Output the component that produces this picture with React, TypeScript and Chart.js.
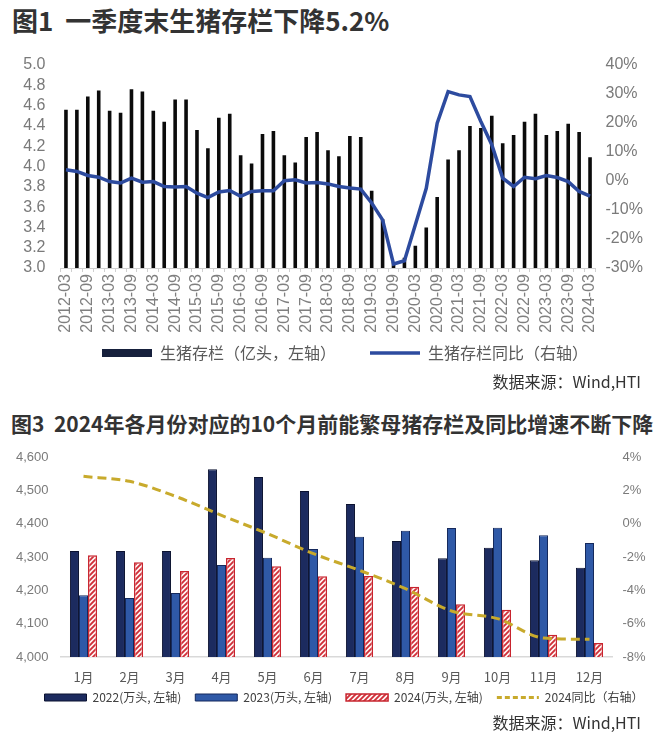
import React, { useEffect, useRef } from 'react';
import { Chart, registerables } from 'chart.js';

Chart.register(...registerables);

// ---------- Figure 1: hog inventory (quarterly) ----------
const QUARTERS: string[] = [
  '2012-03', '2012-06', '2012-09', '2012-12',
  '2013-03', '2013-06', '2013-09', '2013-12',
  '2014-03', '2014-06', '2014-09', '2014-12',
  '2015-03', '2015-06', '2015-09', '2015-12',
  '2016-03', '2016-06', '2016-09', '2016-12',
  '2017-03', '2017-06', '2017-09', '2017-12',
  '2018-03', '2018-06', '2018-09', '2018-12',
  '2019-03', '2019-06', '2019-09', '2019-12',
  '2020-03', '2020-06', '2020-09', '2020-12',
  '2021-03', '2021-06', '2021-09', '2021-12',
  '2022-03', '2022-06', '2022-09', '2022-12',
  '2023-03', '2023-06', '2023-09', '2023-12',
  '2024-03',
];

// 生猪存栏 (亿头)
const HOG_STOCK: number[] = [
  4.56, 4.56, 4.69, 4.75, 4.55, 4.53, 4.76, 4.74,
  4.55, 4.44, 4.66, 4.66, 4.36, 4.18, 4.48, 4.52,
  4.11, 4.03, 4.32, 4.35, 4.11, 4.04, 4.29, 4.34,
  4.16, 4.10, 4.30, 4.29, 3.76, 3.48, 3.06, 3.10,
  3.22, 3.40, 3.70, 4.07, 4.16, 4.40, 4.38, 4.50,
  4.23, 4.31, 4.44, 4.52, 4.31, 4.35, 4.42, 4.34,
  4.09,
];

// 生猪存栏同比 (%)
const HOG_YOY: number[] = [
  3.9, 3.3, 1.9, 1.3, -0.2, -0.7, 1.0, -0.4,
  -0.2, -1.9, -2.1, -1.9, -4.2, -5.7, -3.8, -3.3,
  -5.3, -3.6, -3.4, -3.4, 0.1, 0.4, -0.7, -0.5,
  -1.0, -1.9, -2.4, -2.8, -7.6, -13.4, -28.6, -27.5,
  -15.1, -2.5, 19.9, 30.8, 29.7, 29.1, 20.5, 12.5,
  1.0, -1.9, 1.3, 0.8, 1.9, 1.2, -0.2, -3.6,
  -5.2,
];

// ---------- Figure 3: breeding sows 10 months earlier ----------
const MONTHS: string[] = ['1月', '2月', '3月', '4月', '5月', '6月', '7月', '8月', '9月', '10月', '11月', '12月'];
const SOW_2022: number[] = [4318, 4318, 4318, 4563, 4540, 4498, 4459, 4348, 4296, 4328, 4290, 4268];
const SOW_2023: number[] = [4185, 4177, 4192, 4276, 4298, 4324, 4361, 4379, 4387, 4388, 4365, 4342];
const SOW_2024: number[] = [4305, 4284, 4258, 4297, 4272, 4242, 4243, 4211, 4158, 4142, 4067, 4042];
const SOW_YOY_2024: number[] = [2.84, 2.54, 1.64, 0.5, -0.6, -1.8, -2.8, -3.9, -5.24, -5.7, -6.86, -6.94];

const TICK_FONT = "'Liberation Sans', 'Noto Sans CJK SC', sans-serif";
const CJK_FONT = "'Noto Sans CJK SC', sans-serif";

function makeHatch(): CanvasPattern | string {
  const s = 5;
  const c = document.createElement('canvas');
  c.width = s;
  c.height = s;
  const g = c.getContext('2d');
  if (!g) return '#e04848';
  g.fillStyle = '#fff6f4';
  g.fillRect(0, 0, s, s);
  g.strokeStyle = '#d0303a';
  g.lineWidth = 1.9;
  g.beginPath();
  g.moveTo(-1, s + 1);
  g.lineTo(s + 1, -1);
  g.moveTo(-1, 1);
  g.lineTo(1, -1);
  g.moveTo(s - 1, s + 1);
  g.lineTo(s + 1, s - 1);
  g.stroke();
  return g.createPattern(c, 'repeat') || '#e04848';
}

// moves the legend row after layout (horizontal shift, fixed top, box reaching canvas bottom)
function legendPlacer(dx: number, top: number) {
  return {
    id: 'legendPlacer',
    afterLayout(chart: any) {
      const lg = chart.legend;
      if (!lg) return;
      lg.left += dx;
      lg.right += dx;
      lg.top = top;
      lg.bottom = chart.height;
      lg.height = lg.bottom - lg.top;
    },
  };
}

const noPadV = (s: any) => {
  s.paddingTop = 0;
  s.paddingBottom = 0;
};
const noPadH = (s: any) => {
  s.paddingLeft = 0;
  s.paddingRight = 0;
};

export default function App() {
  const topRef = useRef<HTMLCanvasElement | null>(null);
  const botRef = useRef<HTMLCanvasElement | null>(null);

  useEffect(() => {
    if (!topRef.current || !botRef.current) return;

    const defaultLabels = (Chart.defaults.plugins.legend.labels as any).generateLabels;

    const top = new Chart(topRef.current, {
      type: 'bar',
      data: {
        labels: QUARTERS,
        datasets: [
          {
            type: 'bar',
            label: '生猪存栏（亿头，左轴）',
            data: HOG_STOCK,
            backgroundColor: '#0b0b0b',
            borderWidth: 0,
            yAxisID: 'y',
            barPercentage: 0.33,
            categoryPercentage: 1,
            order: 1,
            pointStyle: 'rect',
          } as any,
          {
            type: 'line',
            label: '生猪存栏同比（右轴）',
            data: HOG_YOY,
            borderColor: '#2d4b9f',
            backgroundColor: '#2d4b9f',
            borderWidth: 3.5,
            pointRadius: 0,
            tension: 0,
            yAxisID: 'y1',
            order: 0,
            pointStyle: 'line',
          } as any,
        ],
      },
      plugins: [legendPlacer(15, 261)],
      options: {
        responsive: false,
        animation: false,
        layout: { padding: { left: 0, right: 0, top: 15, bottom: 0 } },
        plugins: {
          tooltip: { enabled: false },
          legend: {
            position: 'bottom',
            maxHeight: 20,
            labels: {
              usePointStyle: true,
              pointStyleWidth: 50,
              boxHeight: 8,
              padding: 34,
              color: '#595959',
              font: { family: CJK_FONT, size: 16 },
              sort: (a: any, b: any) => a.datasetIndex - b.datasetIndex,
              generateLabels: (chart: any) => {
                const items = defaultLabels(chart);
                items.forEach((it: any) => {
                  if (it.datasetIndex === 0) {
                    it.fillStyle = '#16203c';
                    it.strokeStyle = '#16203c';
                  }
                });
                return items;
              },
            },
          },
        },
        scales: {
          x: {
            grid: { display: true, drawOnChartArea: false, drawTicks: true, tickLength: 4, color: '#d0d0d0' },
            border: { display: true, color: '#d0d0d0' },
            ticks: {
              autoSkip: false,
              maxRotation: 90,
              minRotation: 90,
              padding: 2,
              color: '#7f7f7f',
              font: { family: TICK_FONT, size: 16 },
              callback: (_v: any, i: number) => (i % 2 === 0 ? QUARTERS[i] : ''),
            },
            afterFit: (s: any) => {
              s.height = 84;
              noPadH(s);
            },
          },
          y: {
            type: 'linear',
            position: 'left',
            min: 3,
            max: 5,
            grid: { display: false, drawTicks: false },
            border: { display: false },
            ticks: {
              autoSkip: false,
              stepSize: 0.2,
              padding: 15,
              color: '#7a7a7a',
              font: { family: TICK_FONT, size: 16 },
              callback: (v: any) => Number(v).toFixed(1),
            },
            afterFit: (s: any) => {
              s.width = 60.5;
              noPadV(s);
            },
          },
          y1: {
            type: 'linear',
            position: 'right',
            min: -30,
            max: 40,
            grid: { display: false, drawTicks: false },
            border: { display: false },
            ticks: {
              autoSkip: false,
              stepSize: 10,
              padding: 10,
              color: '#7a7a7a',
              font: { family: TICK_FONT, size: 16 },
              callback: (v: any) => `${v}%`,
            },
            afterFit: (s: any) => {
              s.width = 64.5;
              noPadV(s);
            },
          },
        },
      } as any,
    });

    const hatch = makeHatch();

    const bot = new Chart(botRef.current, {
      type: 'bar',
      data: {
        labels: MONTHS,
        datasets: [
          {
            type: 'bar',
            label: '2022(万头, 左轴)',
            data: SOW_2022,
            backgroundColor: '#1c2b5f',
            borderColor: '#0b1230',
            borderWidth: 1,
            yAxisID: 'y',
            order: 1,
            pointStyle: 'rect',
          } as any,
          {
            type: 'bar',
            label: '2023(万头, 左轴)',
            data: SOW_2023,
            backgroundColor: '#2f59a7',
            borderColor: '#15295c',
            borderWidth: 1,
            yAxisID: 'y',
            order: 1,
            pointStyle: 'rect',
          } as any,
          {
            type: 'bar',
            label: '2024(万头, 左轴)',
            data: SOW_2024,
            backgroundColor: hatch,
            borderColor: '#c8242e',
            borderWidth: 1.5,
            yAxisID: 'y',
            order: 1,
            pointStyle: 'rect',
          } as any,
          {
            type: 'line',
            label: '2024同比（右轴）',
            data: SOW_YOY_2024,
            borderColor: '#c8aa2c',
            backgroundColor: '#c8aa2c',
            borderWidth: 3,
            borderDash: [9, 5],
            pointRadius: 0,
            cubicInterpolationMode: 'monotone',
            yAxisID: 'y1',
            order: 0,
            pointStyle: 'line',
          } as any,
        ],
      },
      plugins: [legendPlacer(14, 237.5)],
      options: {
        responsive: false,
        animation: false,
        datasets: { bar: { categoryPercentage: 0.59, barPercentage: 1 } },
        layout: { padding: { left: 0, right: 0, top: 17, bottom: 0 } },
        plugins: {
          tooltip: { enabled: false },
          legend: {
            position: 'bottom',
            maxHeight: 10,
            labels: {
              usePointStyle: true,
              pointStyleWidth: 42,
              boxHeight: 7,
              padding: 14,
              color: '#404040',
              font: { family: CJK_FONT, size: 12 },
              sort: (a: any, b: any) => a.datasetIndex - b.datasetIndex,
              generateLabels: (chart: any) => {
                const items = defaultLabels(chart);
                items.forEach((it: any) => {
                  if (it.datasetIndex === 3) it.lineDash = [5, 3];
                });
                return items;
              },
            },
          },
        },
        scales: {
          x: {
            grid: { display: false, drawTicks: false },
            border: { display: true, color: '#d9d9d9', width: 1.5 },
            ticks: {
              padding: 12,
              color: '#595959',
              font: { family: CJK_FONT, size: 13 },
            },
            afterFit: (s: any) => {
              s.height = 47;
              noPadH(s);
            },
          },
          y: {
            type: 'linear',
            position: 'left',
            min: 4000,
            max: 4600,
            grid: { display: false, drawTicks: false },
            border: { display: false },
            ticks: {
              autoSkip: false,
              stepSize: 100,
              padding: 12,
              color: '#7a7a7a',
              font: { family: TICK_FONT, size: 13 },
              callback: (v: any) => Number(v).toLocaleString('en-US'),
            },
            afterFit: (s: any) => {
              s.width = 60.5;
              noPadV(s);
            },
          },
          y1: {
            type: 'linear',
            position: 'right',
            min: -8,
            max: 4,
            grid: { display: false, drawTicks: false },
            border: { display: false },
            ticks: {
              autoSkip: false,
              stepSize: 2,
              padding: 10,
              color: '#7a7a7a',
              font: { family: TICK_FONT, size: 13 },
              callback: (v: any) => `${v}%`,
            },
            afterFit: (s: any) => {
              s.width = 47.5;
              noPadV(s);
            },
          },
        },
      } as any,
    });

    return () => {
      top.destroy();
      bot.destroy();
    };
  }, []);

  const abs = (o: React.CSSProperties): React.CSSProperties => ({ position: 'absolute', ...o });

  return (
    <div
      style={{
        position: 'absolute',
        left: 0,
        top: 0,
        width: 660,
        height: 746,
        background: '#ffffff',
        overflow: 'hidden',
        fontFamily: CJK_FONT,
      }}
    >
      <div
        style={abs({
          left: 12,
          top: 5,
          fontSize: 26,
          lineHeight: '30px',
          fontWeight: 700,
          color: '#333333',
          whiteSpace: 'pre',
        })}
      >
        {'图1  一季度末生猪存栏下降5.2%'}
      </div>
      <canvas ref={topRef} width={660} height={322} style={abs({ left: 0, top: 50, width: 660, height: 322 })} />
      <div
        style={abs({
          right: 19,
          top: 371,
          fontSize: 16,
          lineHeight: '20px',
          color: '#333333',
          whiteSpace: 'pre',
        })}
      >
        数据来源：Wind,HTI
      </div>

      <div
        style={abs({
          left: 11,
          top: 409,
          fontSize: 21,
          lineHeight: '28px',
          fontWeight: 700,
          color: '#333333',
          whiteSpace: 'pre',
        })}
      >
        {'图3  2024年各月份对应的10个月前能繁母猪存栏及同比增速不断下降'}
      </div>
      <canvas ref={botRef} width={660} height={274} style={abs({ left: 0, top: 440, width: 660, height: 274 })} />
      <div
        style={abs({
          right: 19,
          top: 712,
          fontSize: 16,
          lineHeight: '20px',
          color: '#333333',
          whiteSpace: 'pre',
        })}
      >
        数据来源：Wind,HTI
      </div>
    </div>
  );
}
